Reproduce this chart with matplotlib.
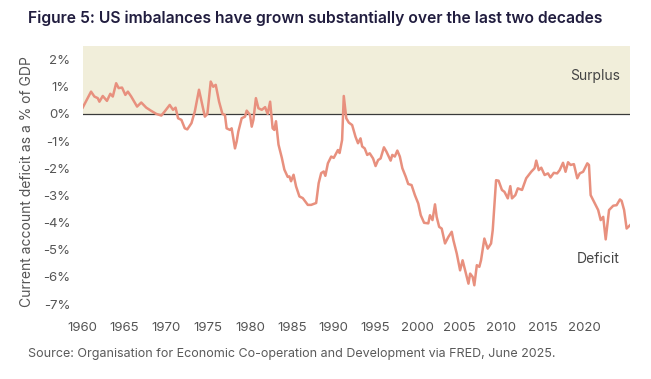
import matplotlib.pyplot as plt

# US current account balance, % of GDP
years = [1960.0, 1961.0, 1961.4, 1961.8, 1962.0, 1962.4, 1962.9, 1963.3, 1963.6, 1964.0,
         1964.3, 1964.7, 1965.1, 1965.4, 1965.8, 1966.5, 1967.0, 1967.6, 1968.2, 1968.8,
         1969.4, 1969.8, 1970.4, 1970.8, 1971.1, 1971.4, 1971.8, 1972.2, 1972.5, 1973.0,
         1973.4, 1973.9, 1974.2, 1974.6, 1974.9, 1975.3, 1975.6, 1975.9, 1976.3, 1976.7,
         1977.0, 1977.2, 1977.6, 1977.8, 1978.2, 1978.4, 1978.6, 1979.0, 1979.4, 1979.6,
         1980.0, 1980.2, 1980.4, 1980.7, 1981.0, 1981.4, 1981.8, 1982.1, 1982.4, 1982.7,
         1982.9, 1983.1, 1983.4, 1983.8, 1984.1, 1984.5, 1984.7, 1984.9, 1985.2, 1985.5,
         1985.9, 1986.3, 1986.9, 1987.3, 1987.9, 1988.2, 1988.5, 1988.8, 1989.0, 1989.3,
         1989.7, 1990.0, 1990.5, 1990.7, 1991.0, 1991.2, 1991.5, 1991.8, 1992.2, 1992.6,
         1992.9, 1993.2, 1993.4, 1993.7, 1994.0, 1994.3, 1994.7, 1995.0, 1995.3, 1995.6,
         1996.0, 1996.3, 1996.8, 1997.0, 1997.3, 1997.6, 1997.9, 1998.2, 1998.6, 1998.9,
         1999.3, 1999.7, 2000.1, 2000.4, 2000.8, 2001.3, 2001.5, 2001.8, 2002.1, 2002.3,
         2002.6, 2002.9, 2003.3, 2003.7, 2004.1, 2004.3, 2004.7, 2005.1, 2005.4, 2005.7,
         2006.1, 2006.3, 2006.6, 2006.8, 2007.1, 2007.4, 2007.6, 2008.0, 2008.4, 2008.8,
         2009.0, 2009.4, 2009.7, 2010.1, 2010.4, 2010.8, 2011.1, 2011.3, 2011.7, 2012.0,
         2012.5, 2013.0, 2013.6, 2014.0, 2014.2, 2014.5, 2014.8, 2015.2, 2015.6, 2015.9,
         2016.3, 2016.7, 2017.0, 2017.4, 2017.7, 2018.0, 2018.3, 2018.7, 2019.1, 2019.4,
         2019.8, 2020.3, 2020.5, 2020.7, 2021.2, 2021.6, 2021.9, 2022.2, 2022.5, 2022.9,
         2023.4, 2023.8, 2024.2, 2024.4, 2024.7, 2025.0, 2025.4]
balance = [0.23, 0.82, 0.64, 0.58, 0.45, 0.66, 0.48, 0.74, 0.64, 1.13,
           0.95, 0.97, 0.70, 0.82, 0.64, 0.27, 0.42, 0.23, 0.11, 0.00,
           -0.06, 0.09, 0.33, 0.15, 0.23, -0.16, -0.22, -0.53, -0.57, -0.34,
           0.09, 0.89, 0.46, -0.10, 0.00, 1.19, 1.00, 1.07, 0.45, 0.00,
           -0.04, -0.53, -0.59, -0.53, -1.27, -1.02, -0.65, -0.16, -0.10, 0.12,
           -0.04, -0.47, -0.22, 0.58, 0.21, 0.15, 0.25, 0.00, 0.45, -0.53,
           -0.59, -0.27, -1.13, -1.62, -2.05, -2.32, -2.30, -2.48, -2.24, -2.67,
           -3.04, -3.10, -3.35, -3.35, -3.28, -2.55, -2.18, -2.12, -2.28, -1.82,
           -1.57, -1.62, -1.33, -1.44, -0.96, 0.66, -0.16, -0.32, -0.41, -0.84,
           -1.08, -0.90, -1.20, -1.27, -1.51, -1.45, -1.64, -1.92, -1.70, -1.64,
           -1.23, -1.39, -1.72, -1.51, -1.57, -1.35, -1.57, -2.00, -2.31, -2.58,
           -2.62, -2.99, -3.30, -3.73, -4.01, -4.03, -3.73, -3.91, -3.33, -3.79,
           -4.16, -4.22, -4.77, -4.53, -4.34, -4.65, -5.14, -5.76, -5.39, -5.76,
           -6.25, -5.88, -6.00, -6.31, -5.57, -5.63, -5.39, -4.59, -4.96, -4.77,
           -4.28, -2.44, -2.46, -2.80, -2.87, -3.11, -2.66, -3.11, -2.99, -2.74,
           -2.80, -2.37, -2.13, -2.00, -1.72, -2.07, -1.98, -2.25, -2.19, -2.34,
           -2.17, -2.19, -2.07, -1.80, -2.13, -1.78, -1.88, -1.85, -2.37, -2.19,
           -2.13, -1.82, -1.88, -2.99, -3.30, -3.54, -3.91, -3.79, -4.62, -3.54,
           -3.38, -3.36, -3.15, -3.20, -3.54, -4.22, -4.10]

xticks = list(range(1960, 2021, 5))
yticks = list(range(-7, 3))
ylabels = [f"{t}%" for t in yticks]

plt.rcParams['font.family'] = ['Inter', 'DejaVu Sans']

fig = plt.figure(figsize=(6.51, 3.79), dpi=100)
ax = fig.add_axes([0.127, 0.162, 0.8407, 0.7166])

ax.axhspan(0, 2.5, color='#F1EEDA', lw=0, zorder=0)
ax.axhline(0, color='#3a3a3a', lw=0.9, zorder=1)
ax.plot(years, balance, color='#E8907E', lw=1.8, zorder=2)

ax.set_xlim(1960, 2025.4)
ax.set_ylim(-7.5, 2.5)
ax.set_xticks(xticks)
ax.set_yticks(yticks)
ax.set_yticklabels(ylabels)
ax.tick_params(length=0, labelsize=9.5, colors='#555555')
ax.tick_params(axis='y', pad=9)
ax.tick_params(axis='x', pad=3)
for s in ax.spines.values():
    s.set_visible(False)

ax.set_ylabel('Current account deficit as a % of GDP', fontsize=10, color='#555555', labelpad=6)

ax.text(2024.2, 1.38, 'Surplus', ha='right', va='center', fontsize=10, color='#444444')
ax.text(2024.2, -5.35, 'Deficit', ha='right', va='center', fontsize=10, color='#444444')

fig.text(0.043, 0.952, 'Figure 5: US imbalances have grown substantially over the last two decades',
         fontsize=11.3, fontweight='semibold', color='#211d3f', va='center')
fig.text(0.043, 0.066, 'Source: Organisation for Economic Co-operation and Development via FRED, June 2025.',
         fontsize=9, color='#5a5a5a', va='center')

fig.savefig('out.png', dpi=100)
